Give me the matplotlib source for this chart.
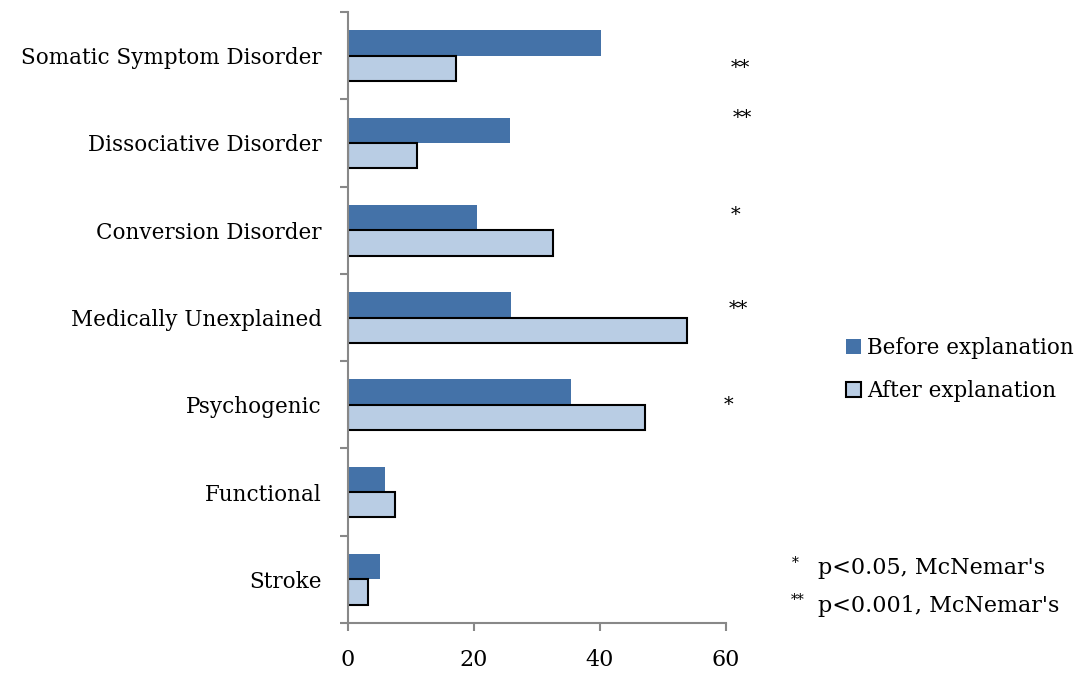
import numpy as np
import matplotlib.pyplot as plt

plt.rcParams['font.family'] = ['DejaVu Serif']

categories = ['Somatic Symptom Disorder', 'Dissociative Disorder', 'Conversion Disorder',
              'Medically Unexplained', 'Psychogenic', 'Functional', 'Stroke']
before = [40.2, 25.7, 20.5, 25.9, 35.4, 5.9, 5.1]
after = [17.1, 11.0, 32.5, 53.8, 47.1, 7.5, 3.2]
stars = ['**', '**', '*', '**', '*', '', '']
star_x = [62.2, 62.6, 61.5, 61.9, 60.4, 0, 0]
star_dy = [0.14, -0.28, -0.18, -0.1, 0.0, 0, 0]

fig = plt.figure(figsize=(10.9, 6.73), dpi=100)
ax = fig.add_axes([348 / 1090, 1 - 623 / 673, 378 / 1090, 611 / 673])

y = np.arange(len(categories))
h = 0.29
ax.barh(y - h / 2, before, height=h, color='#4472a8', label='Before explanation')
ax.barh(y + h / 2, after, height=h, color='#b9cde4', edgecolor='black', linewidth=1.5,
        label='After explanation')

ax.set_xlim(0, 60)
ax.set_ylim(len(categories) - 0.5, -0.5)
ax.set_xticks([0, 20, 40, 60])
ax.set_yticks(np.arange(len(categories) + 1) - 0.5, minor=False)
ax.set_yticklabels([])
ax.set_yticks(y, minor=True)
ax.set_yticklabels(categories, minor=True)
ax.tick_params(axis='y', which='minor', length=0, pad=19, labelsize=15.5)
ax.tick_params(axis='y', which='major', length=6, color='#888888', width=1.5)
ax.tick_params(axis='x', length=6, color='#888888', width=1.5, labelsize=16, pad=13)

for s in ['top', 'right']:
    ax.spines[s].set_visible(False)
for s in ['left', 'bottom']:
    ax.spines[s].set_color('#888888')
    ax.spines[s].set_linewidth(1.5)

for i, s in enumerate(stars):
    if s:
        ax.text(star_x[i], i + star_dy[i], s, ha='center', va='center', fontsize=14,
                clip_on=False)

ax.legend(loc='center left', bbox_to_anchor=(1.265, 0.415), frameon=False, fontsize=15.5,
          handlelength=0.7, handleheight=0.7, handletextpad=0.3, labelspacing=1.0)

fig.text(792 / 1090, 1 - 563 / 673, '*', fontsize=10, ha='left', va='center')
fig.text(818 / 1090, 1 - 568 / 673, "p<0.05, McNemar's", fontsize=16, ha='left', va='center')
fig.text(791 / 1090, 1 - 600 / 673, '**', fontsize=10, ha='left', va='center')
fig.text(818 / 1090, 1 - 606 / 673, "p<0.001, McNemar's", fontsize=16, ha='left', va='center')

fig.savefig('out.png', dpi=100)
